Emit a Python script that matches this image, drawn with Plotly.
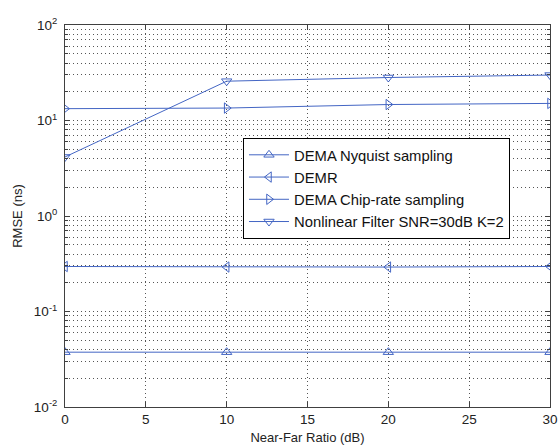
import plotly.graph_objects as go

near_far = [0, 10, 20, 30]
dema_nyquist = [0.0375, 0.0375, 0.0375, 0.0375]
demr = [0.296, 0.292, 0.292, 0.296]
dema_chip = [13.3, 13.5, 14.7, 15.1]
nonlinear = [4.15, 25.8, 28.2, 29.9]

names = ["DEMA Nyquist sampling", "DEMR", "DEMA Chip-rate sampling", "Nonlinear Filter SNR=30dB K=2"]
symbols = ["triangle-up-open", "triangle-left-open", "triangle-right-open", "triangle-down-open"]
series = [dema_nyquist, demr, dema_chip, nonlinear]

color = "#4466c4"
fig = go.Figure()
for nm, sym, ys in zip(names, symbols, series):
    fig.add_trace(go.Scatter(
        x=near_far, y=ys, name=nm, mode="lines+markers",
        line=dict(color=color, width=1),
        marker=dict(symbol=sym, size=9, color=color, line=dict(color=color, width=1)),
    ))

major = [0.01, 0.1, 1, 10, 100]
major_text = ["10<sup>-2</sup>", "10<sup>-1</sup>", "10<sup>0</sup>", "10<sup>1</sup>", "10<sup>2</sup>"]
minor_vals = [m * d for d in [0.01, 0.1, 1, 10] for m in range(2, 10)]

ff = "Liberation Sans, Arial, sans-serif"
font = dict(family=ff, size=12, color="#222")
grid = dict(showgrid=True, gridcolor="#555", griddash="1px,3px", gridwidth=1)

fig.update_layout(
    width=559, height=445,
    margin=dict(l=65, r=9, t=25, b=38, autoexpand=False),
    paper_bgcolor="white", plot_bgcolor="white",
    font=font,
    showlegend=True,
    legend=dict(x=0.367, y=0.705, xanchor="left", yanchor="top",
                bordercolor="black", borderwidth=1, bgcolor="white",
                font=dict(family=ff, size=14.8, color="#111"),
                tracegroupgap=0, itemwidth=40),
)
fig.update_xaxes(
    range=[0, 30], tickvals=[0, 5, 10, 15, 20, 25, 30],
    ticks="inside", ticklen=5, tickcolor="#404040",
    showline=True, linecolor="#404040", linewidth=1, mirror="ticks",
    zeroline=False, automargin=False,
    title=dict(text="Near-Far Ratio (dB)", standoff=6, font=dict(size=13)),
    tickfont=dict(size=13.5),
    **grid,
)
fig.update_yaxes(
    type="log", range=[-2, 2], tickvals=major, ticktext=major_text,
    ticks="inside", ticklen=5, tickcolor="#404040",
    showline=True, linecolor="#404040", linewidth=1, mirror="ticks",
    zeroline=False, automargin=False, ticklabelstandoff=4,
    title=dict(text="RMSE (ns)", standoff=8, font=dict(size=13)),
    tickfont=dict(size=13.5),
    minor=dict(tickvals=minor_vals, ticks="inside", ticklen=3, tickcolor="#404040",
               showgrid=True, gridcolor="#555", griddash="1px,3px", gridwidth=1),
    **grid,
)
fig.write_html("out.html", config={"displayModeBar": False},
               post_script="document.body.style.margin='0';document.body.style.overflow='hidden';")
